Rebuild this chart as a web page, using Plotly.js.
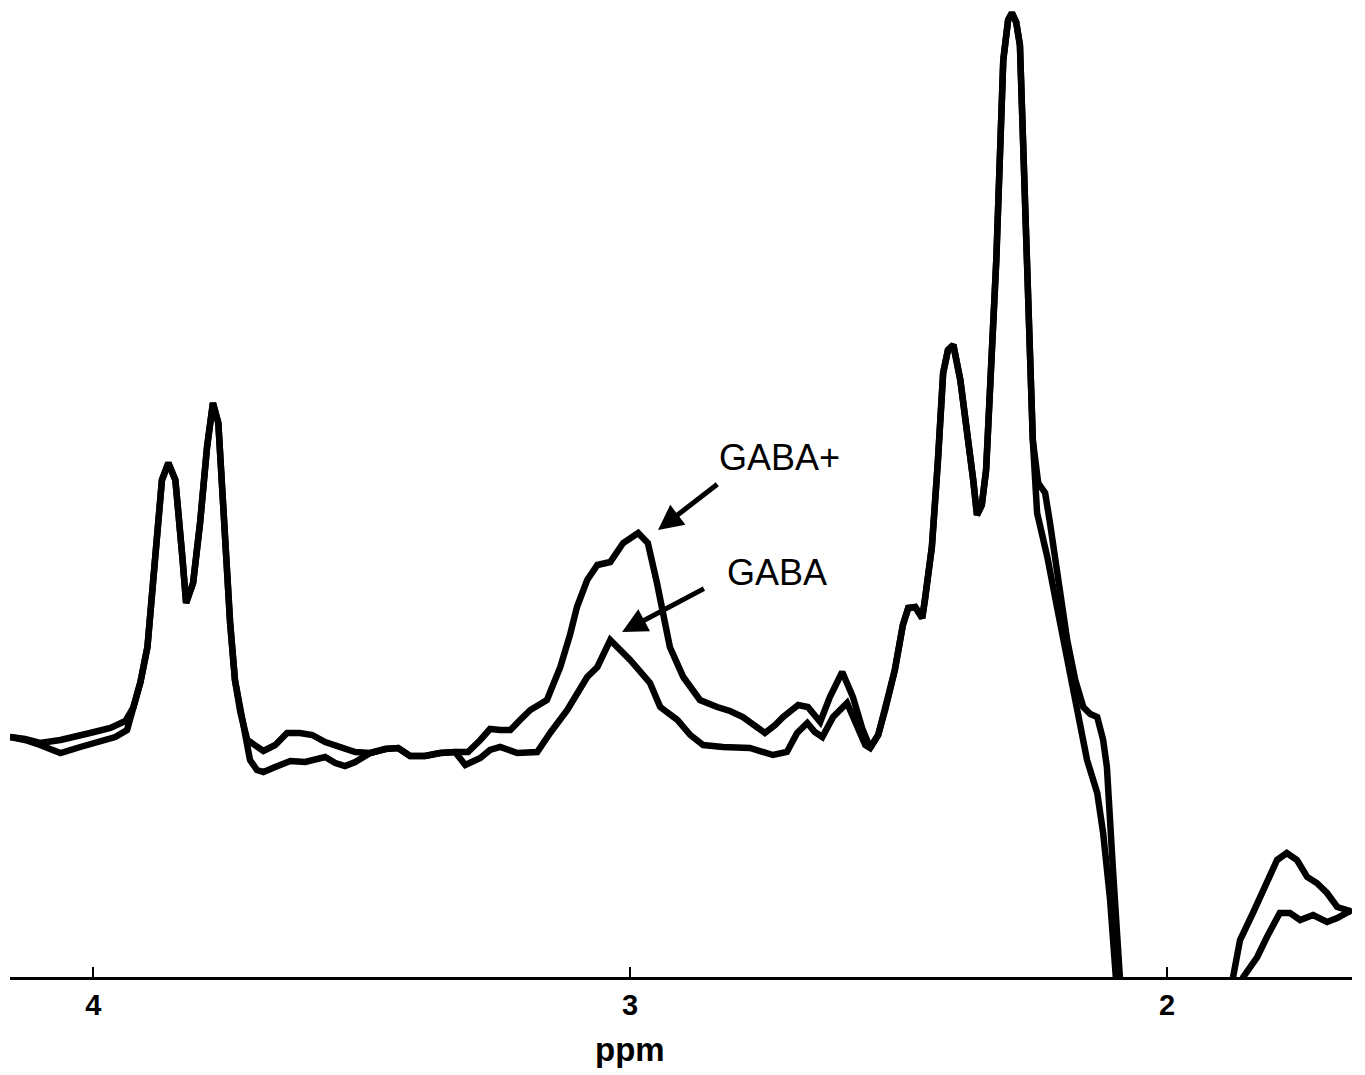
<!DOCTYPE html>
<html>
<head>
<meta charset="utf-8">
<script src="https://cdn.plot.ly/plotly-3.0.1.min.js"></script>
<style>html,body{margin:0;padding:0;background:#fff;}#chart{width:1365px;height:1075px;}</style>
</head>
<body>
<div id="chart"></div>
<script>
// ---- DATA (chemical shift in ppm, signal in arbitrary units) ----
// left baseline, GABA+ spectrum
const leftPpmPlus = [4.155, 4.127, 4.099, 4.061, 4.006, 3.968, 3.940];
const leftValPlus = [24.0, 23.8, 23.4, 23.7, 24.4, 24.9, 25.6];
// left baseline, GABA spectrum
const leftPpmGaba = [4.155, 4.127, 4.099, 4.061, 4.024, 3.987, 3.959, 3.937];
const leftValGaba = [24.0, 23.7, 23.2, 22.4, 23.0, 23.5, 24.0, 24.7];
// Glx doublet (shared by both spectra)
const doubletPpm = [3.925, 3.912, 3.899, 3.885, 3.872, 3.860, 3.847, 3.834, 3.827, 3.814, 3.801, 3.788, 3.777, 3.767, 3.758, 3.745, 3.736, 3.726];
const doubletVal = [27.0, 29.5, 33.0, 41.7, 49.7, 51.4, 49.7, 42.0, 37.4, 39.4, 45.4, 53.0, 57.4, 55.4, 47.0, 35.4, 29.7, 26.5];
// middle region, GABA+ spectrum
const midPpmPlus = [3.713, 3.698, 3.683, 3.661, 3.639, 3.615, 3.592, 3.568, 3.540, 3.512, 3.484, 3.456, 3.432, 3.410, 3.382, 3.354, 3.326, 3.302,
  3.279, 3.261, 3.242, 3.223, 3.205, 3.186, 3.155, 3.130, 3.112, 3.099, 3.080, 3.061, 3.037, 3.013, 2.985, 2.967, 2.950, 2.926, 2.901,
  2.870, 2.838, 2.814, 2.790, 2.767, 2.749, 2.730, 2.715, 2.687, 2.669, 2.646, 2.628, 2.605, 2.585, 2.568, 2.553];
const midValPlus = [23.7, 23.2, 22.6, 23.2, 24.4, 24.4, 24.2, 23.5, 23.0, 22.5, 22.4, 22.8, 22.9, 22.1, 22.1, 22.4, 22.5, 22.5,
  23.7, 24.8, 24.7, 24.7, 25.7, 26.7, 27.7, 31.0, 34.2, 37.0, 39.7, 41.2, 41.5, 43.4, 44.4, 43.4, 39.4, 33.0, 30.0,
  27.7, 27.0, 26.6, 26.0, 25.2, 24.4, 25.2, 26.0, 27.2, 27.0, 25.5, 28.0, 30.5, 28.0, 24.9, 22.9];
// middle region, GABA spectrum
const midPpmGaba = [3.717, 3.708, 3.695, 3.683, 3.661, 3.633, 3.605, 3.587, 3.568, 3.549, 3.531, 3.512, 3.484, 3.456, 3.432, 3.410, 3.382, 3.354, 3.326,
  3.307, 3.279, 3.261, 3.242, 3.210, 3.173, 3.149, 3.117, 3.080, 3.061, 3.037, 3.019, 3.000, 2.963, 2.944, 2.912, 2.888, 2.864,
  2.827, 2.777, 2.734, 2.708, 2.689, 2.670, 2.656, 2.642, 2.622, 2.596, 2.577, 2.562, 2.553];
const midValGaba = [23.7, 21.7, 20.7, 20.5, 21.0, 21.6, 21.5, 21.7, 22.0, 21.4, 21.1, 21.5, 22.4, 22.8, 22.9, 22.1, 22.1, 22.4, 22.5,
  21.2, 21.9, 22.7, 23.0, 22.4, 22.5, 24.4, 26.7, 30.0, 31.0, 33.7, 32.7, 31.7, 29.4, 27.0, 25.7, 24.2, 23.2,
  23.0, 22.9, 22.2, 22.5, 24.4, 25.4, 24.5, 24.0, 26.0, 27.4, 25.0, 23.2, 22.9];
// NAA / Glx region (shared by both spectra)
const naaPpm = [2.538, 2.525, 2.507, 2.492, 2.482, 2.469, 2.456, 2.451, 2.438, 2.427, 2.417, 2.408, 2.398, 2.385, 2.372, 2.361, 2.354,
  2.345, 2.337, 2.330, 2.318, 2.305, 2.296, 2.289, 2.281, 2.274, 2.264, 2.255, 2.250];
const naaVal = [24.2, 26.7, 30.7, 35.2, 36.9, 37.0, 35.9, 37.7, 43.0, 51.4, 60.4, 62.7, 63.2, 59.7, 54.7, 49.7, 46.2,
  47.2, 50.7, 57.7, 71.7, 91.7, 95.7, 96.4, 95.5, 93.2, 77.7, 63.7, 53.7];
// right region, GABA+ spectrum
const rightPpmPlus = [2.240, 2.227, 2.218, 2.205, 2.186, 2.171, 2.156, 2.143, 2.130, 2.119, 2.112, 2.101, 2.087, 2.078, 1.980, 1.907,
  1.877, 1.864, 1.840, 1.814, 1.795, 1.777, 1.758, 1.739, 1.721, 1.702, 1.683, 1.665, 1.656];
const rightValPlus = [49.4, 48.4, 45.4, 40.4, 33.7, 29.7, 27.0, 26.3, 26.0, 23.7, 21.0, 11.0, -1.0, -8.3, -40.0, -8.3,
  0.0, 3.7, 6.4, 9.7, 11.7, 12.4, 11.7, 10.0, 9.4, 8.4, 7.0, 6.7, 6.5];
// right region, GABA spectrum
const rightPpmGaba = [2.242, 2.223, 2.205, 2.181, 2.162, 2.149, 2.130, 2.119, 2.106, 2.093, 2.084, 1.990, 1.890, 1.870,
  1.858, 1.832, 1.814, 1.790, 1.771, 1.752, 1.728, 1.702, 1.683, 1.665, 1.656];
const rightValGaba = [46.4, 42.0, 37.0, 30.4, 25.4, 21.7, 18.4, 14.4, 7.7, -1.0, -8.3, -40.0, -10.0, -3.0,
  0.0, 2.0, 4.0, 6.4, 6.4, 5.7, 6.2, 5.5, 5.9, 6.5, 6.7];

const tickVals = [4, 3, 2];
const tickText = ['4', '3', '2'];
const labelPlus = 'GABA+';
const labelGaba = 'GABA';
const axisLabel = 'ppm';

// ---- BUILD ----
const xPlus = [].concat(leftPpmPlus, doubletPpm, midPpmPlus, naaPpm, rightPpmPlus);
const yPlus = [].concat(leftValPlus, doubletVal, midValPlus, naaVal, rightValPlus);
const xGaba = [].concat(leftPpmGaba, doubletPpm, midPpmGaba, naaPpm, rightPpmGaba);
const yGaba = [].concat(leftValGaba, doubletVal, midValGaba, naaVal, rightValGaba);

const lineStyle = {color: '#000', width: 6.5, shape: 'linear'};
const traces = [
  {x: xGaba, y: yGaba, type: 'scatter', mode: 'lines', name: labelGaba, line: lineStyle, hoverinfo: 'skip'},
  {x: xPlus, y: yPlus, type: 'scatter', mode: 'lines', name: labelPlus, line: lineStyle, hoverinfo: 'skip'}
];

const labelFont = {family: 'Liberation Sans, Arial, sans-serif', size: 36, color: '#000'};
const layout = {
  width: 1365, height: 1075,
  margin: {l: 10, r: 13, t: 5, b: 98},
  paper_bgcolor: '#fff', plot_bgcolor: '#fff',
  showlegend: false,
  xaxis: {
    range: [4.155, 1.6555], autorange: false,
    showgrid: false, zeroline: false,
    showline: true, linecolor: '#000', linewidth: 3,
    ticks: 'inside', ticklen: 10, tickwidth: 2.5, tickcolor: '#000',
    tickmode: 'array', tickvals: tickVals, ticktext: tickText,
    tickfont: {family: 'Liberation Sans, Arial, sans-serif', size: 29, color: '#000', weight: 'bold'}
  },
  yaxis: {
    range: [0, 97.2], autorange: false, visible: false,
    showgrid: false, zeroline: false
  },
  annotations: [
    {x: 2.721, y: 52.0, xref: 'x', yref: 'y', text: labelPlus, showarrow: false, font: labelFont, xanchor: 'center', yanchor: 'middle'},
    {x: 2.726, y: 40.5, xref: 'x', yref: 'y', text: labelGaba, showarrow: false, font: labelFont, xanchor: 'center', yanchor: 'middle'},
    {x: 2.948, y: 44.7, ax: 2.832, ay: 49.5, xref: 'x', yref: 'y', axref: 'x', ayref: 'y', text: ' ', showarrow: true,
     arrowhead: 2, arrowsize: 1, arrowwidth: 5, arrowcolor: '#000', standoff: 0, startstandoff: 0},
    {x: 3.015, y: 34.5, ax: 2.857, ay: 39.0, xref: 'x', yref: 'y', axref: 'x', ayref: 'y', text: ' ', showarrow: true,
     arrowhead: 2, arrowsize: 1, arrowwidth: 5, arrowcolor: '#000', standoff: 0, startstandoff: 0},
    {x: 3, y: -0.075, xref: 'x', yref: 'paper', text: axisLabel, showarrow: false, xanchor: 'center', yanchor: 'middle',
     font: {family: 'Liberation Sans, Arial, sans-serif', size: 33, color: '#000', weight: 'bold'}}
  ]
};

Plotly.newPlot('chart', traces, layout, {displayModeBar: false, staticPlot: true});
</script>
</body>
</html>
